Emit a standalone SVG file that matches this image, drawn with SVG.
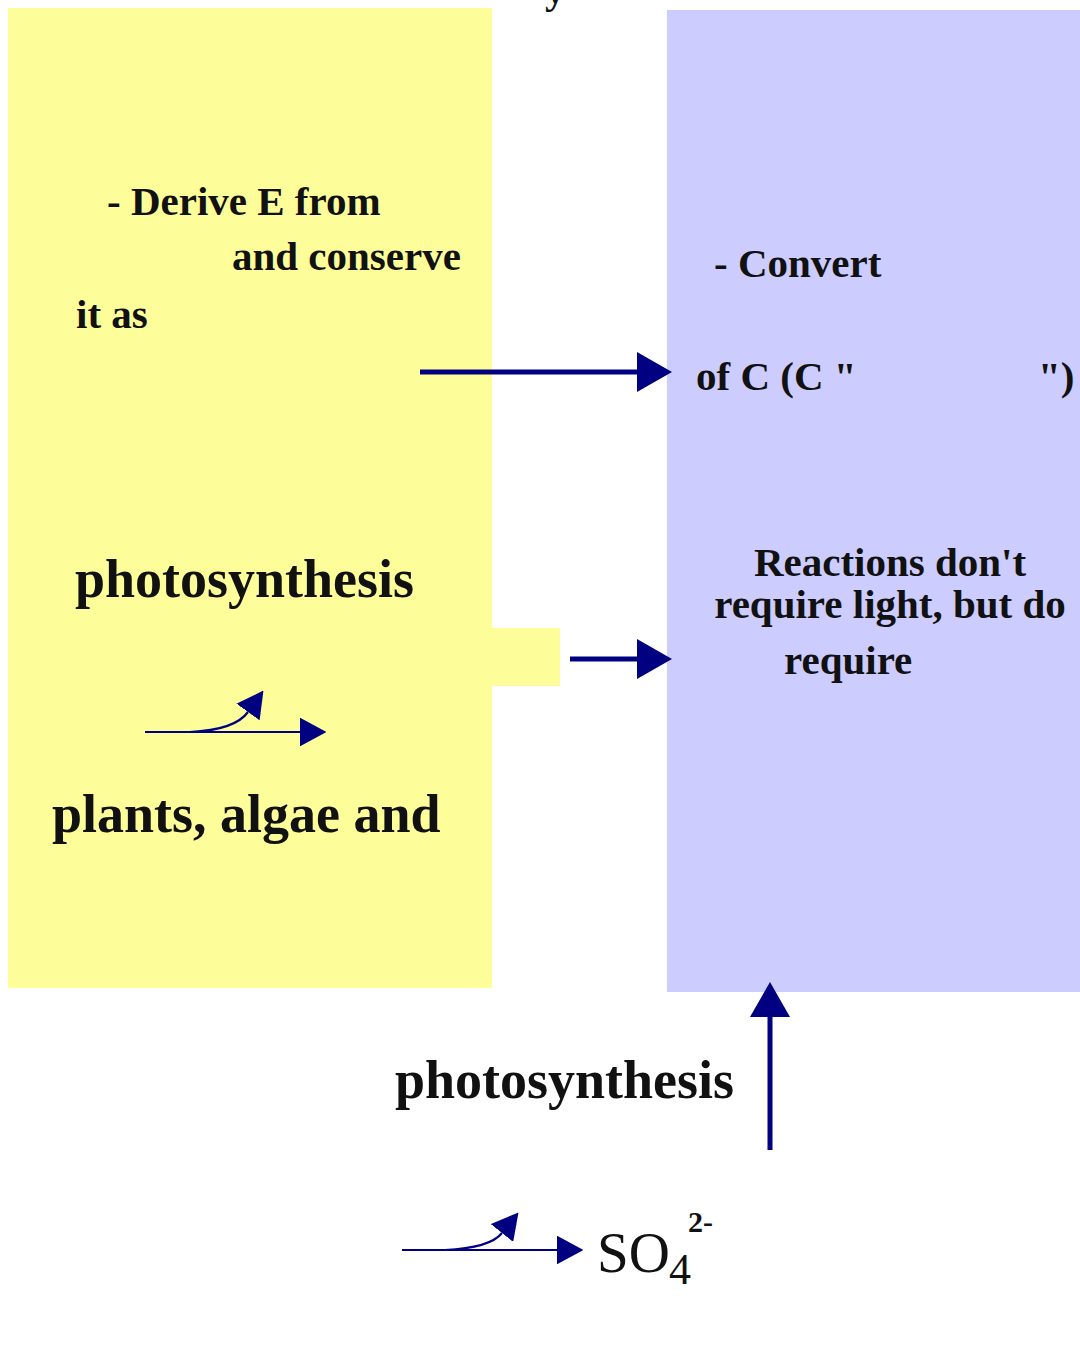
<svg xmlns="http://www.w3.org/2000/svg" width="1080" height="1366" viewBox="0 0 1080 1366">
<style>
.t{font-family:"Liberation Serif","Times New Roman",serif;font-weight:bold;fill:#111;}
.m{font-size:41px;}
.l{font-size:54px;}
.r{font-family:"Liberation Serif","Times New Roman",serif;fill:#111;}
.thick{stroke:#000080;stroke-width:5;fill:none;}
.thin{stroke:#000080;stroke-width:2.2;fill:none;}
</style>
<defs>
<marker id="big" markerWidth="7" markerHeight="8" refX="0" refY="4" orient="auto" markerUnits="strokeWidth">
<path d="M0,0 L7,4 L0,8 Z" fill="#000080"/>
</marker>
<marker id="sm" markerWidth="12" markerHeight="13" refX="0" refY="6.5" orient="auto" markerUnits="strokeWidth">
<path d="M0,0 L12,6.5 L0,13 Z" fill="#000080"/>
</marker>
</defs>
<rect width="1080" height="1366" fill="#ffffff"/>
<text class="t m" x="545" y="3">y</text>
<g id="light-reactions">
<rect x="8" y="8" width="484" height="980" fill="#FDFD9A"/>
<rect x="490" y="628" width="70" height="58" fill="#FDFD9A"/>
<text class="t m" x="107" y="215">- Derive E from</text>
<text class="t m" x="232" y="270">and conserve</text>
<text class="t m" x="76" y="328">it as</text>
<text class="t l" x="75" y="597">photosynthesis</text>
<path class="thin" d="M145,732 L300,732" marker-end="url(#sm)"/>
<path class="thin" d="M190,732 Q235,730 248,712" marker-end="url(#sm)"/>
<text class="t l" x="52" y="832">plants, algae and</text>
</g>
<g id="dark-reactions">
<rect x="667" y="10" width="413" height="982" fill="#CCCCFF"/>
<text class="t m" x="714" y="277">- Convert</text>
<text class="t m" x="696" y="390">of C (C "</text>
<text class="t m" x="1038" y="390">")</text>
<text class="t m" x="890" y="576" text-anchor="middle">Reactions don't</text>
<text class="t m" x="890" y="618" text-anchor="middle">require light, but do</text>
<text class="t m" x="784" y="674">require</text>
</g>
<g id="bacterial">
<text class="t l" x="395" y="1098">photosynthesis</text>
<path class="thin" d="M402,1250 L557,1250" marker-end="url(#sm)"/>
<path class="thin" d="M445,1250 Q490,1248 502,1233" marker-end="url(#sm)"/>
<text class="r" x="597" y="1272" font-size="57">SO</text>
<text class="r" x="669" y="1284" font-size="44">4</text>
<text class="r" x="688" y="1232" font-size="30" font-weight="bold">2-</text>
</g>
<g id="connectors">
<path class="thick" d="M420,372 L637,372" marker-end="url(#big)"/>
<path class="thick" d="M570,659 L637,659" marker-end="url(#big)"/>
<path class="thick" d="M770,1150 L770,1017" marker-end="url(#big)"/>
</g>
</svg>
